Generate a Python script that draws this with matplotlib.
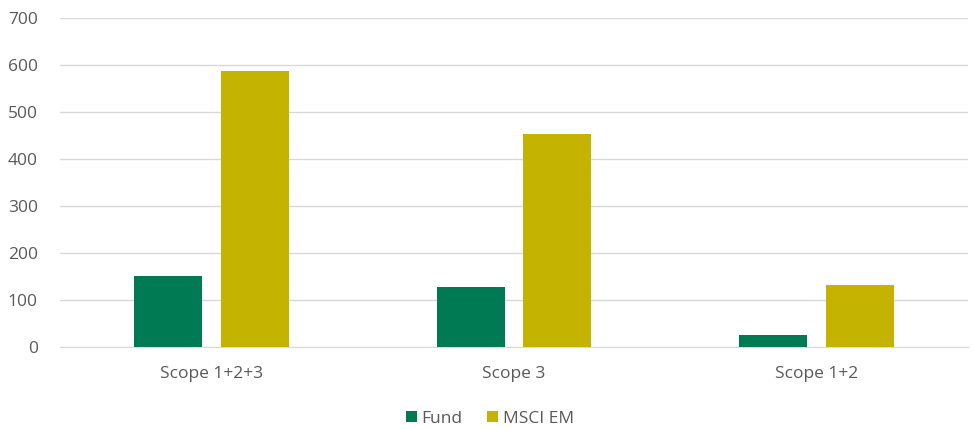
import matplotlib
matplotlib.use("Agg")
import matplotlib.pyplot as plt
import numpy as np

categories = ["Scope 1+2+3", "Scope 3", "Scope 1+2"]
fund = [152, 128, 25]
msci_em = [587, 454, 133]
series_names = ["Fund", "MSCI EM"]
yticks = [0, 100, 200, 300, 400, 500, 600, 700]

plt.rcParams['font.family'] = ['Open Sans', 'DejaVu Sans']

fig = plt.figure(figsize=(9.74, 4.30), dpi=100)
ax = fig.add_axes([60/974, 1-347/430, 908/974, (347-18.3)/430])

x = np.arange(len(categories))
w = 0.225
off = 0.143
ax.bar(x - off, fund, width=w, color="#007A53", label=series_names[0], zorder=3)
ax.bar(x + off, msci_em, width=w, color="#C4B300", label=series_names[1], zorder=3)

ax.set_xlim(-0.5, 2.5)
ax.set_ylim(0, 700)
ax.set_yticks(yticks)
ax.set_xticks(x)
ax.set_xticklabels(categories)
ax.yaxis.grid(True, color="#D9D9D9", linewidth=1)
ax.set_axisbelow(True)
for s in ["top", "right", "left"]:
    ax.spines[s].set_visible(False)
ax.spines["bottom"].set_color("#D9D9D9")
ax.tick_params(axis="both", length=0, colors="#595959", labelsize=12.5)
ax.tick_params(axis="y", pad=16)
ax.tick_params(axis="x", pad=14)

fig.legend(loc="center", bbox_to_anchor=(490/974, 1-419/430), ncol=2, frameon=False,
           fontsize=12.5, handlelength=0.6, handleheight=0.6, columnspacing=1.4,
           handletextpad=0.3, labelcolor="#595959")

fig.savefig("out.png", dpi=100)
